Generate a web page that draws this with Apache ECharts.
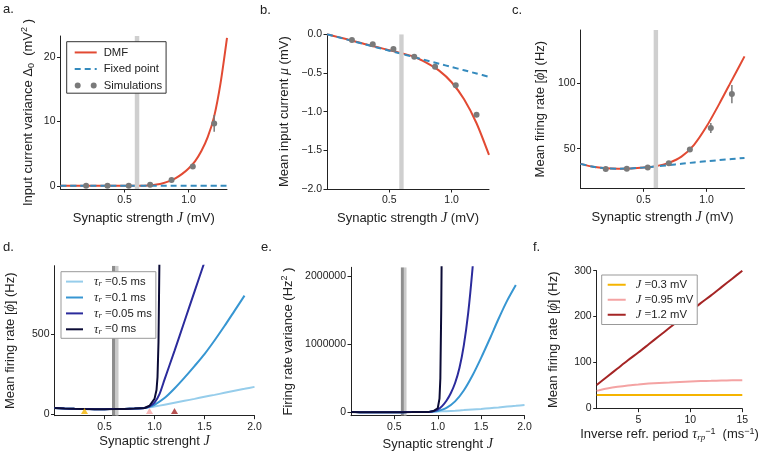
<!DOCTYPE html>
<html><head><meta charset="utf-8">
<script src="https://cdn.jsdelivr.net/npm/echarts@6/dist/echarts.min.js"></script>
<style>html,body{margin:0;padding:0;background:#fff}#c{width:764px;height:457px}</style>
</head><body><div id="c"></div>
<script>
// ---------- data ----------
const jA = [0,0.05,0.1,0.15,0.2,0.25,0.3,0.35,0.4,0.45,0.5,0.55,0.6,0.65,0.7,0.75,0.8,0.85,0.9,0.95,1.0,1.05,1.1,1.15,1.2,1.25,1.3];
const varDMF = [0,0,0,0,0,0,0,0,0,0,0,0,0,0.02,0.08,0.2,0.4,0.72,1.2,1.85,2.7,3.8,5.4,7.6,10.8,16,23];
const jFixedA = [0, 1.3];
const varFixed = [0, 0];
const jSim = [0.2,0.367,0.533,0.7,0.867,1.033,1.2];
const varSim = [0,0,0,0.15,0.9,3.0,9.7];
const varSimErr = [0.05,0.05,0.05,0.1,0.25,0.4,1.3];

const jB = [0,0.1,0.2,0.3,0.4,0.5,0.6,0.7,0.8,0.9,1.0,1.1,1.2,1.3];
const muDMF = [0,-0.04,-0.08,-0.125,-0.165,-0.205,-0.245,-0.29,-0.37,-0.47,-0.62,-0.84,-1.15,-1.56];
const muFixed = [0,-0.042,-0.085,-0.127,-0.17,-0.212,-0.254,-0.296,-0.338,-0.38,-0.423,-0.465,-0.507,-0.55];
const muSim = [-0.074,-0.13,-0.19,-0.29,-0.42,-0.66,-1.04];

const rateDMF = [38.5,36.3,35.2,34.9,35.1,35.7,36.8,39.3,44,53,67,84,102,120];
const rateFixed = [38.5,36.3,35.2,34.9,35.1,35.7,36.6,37.6,38.6,39.6,40.5,41.4,42.2,43];
const rateSim = [34.6,34.8,35.8,39,49.5,65.7,91.4];
const rateSimErr = [0.6,0.6,0.6,1.5,1,3.8,7];

const bandJ = [0.58, 0.615];
const bandJ2 = [0.575, 0.61, 0.64];

const jD05 = [0,0.1,0.2,0.3,0.4,0.5,0.6,0.7,0.8,0.9,0.95,1.0,1.1,1.2,1.3,1.4,1.5,1.6,1.7,1.8,1.9,2.0];
const rateD05 = [38,35,33,31.5,31,31,31.5,32.5,34.5,38,42,47,59,71,83,95,108,120,133,146,158,170];
const jD01 = [0,0.1,0.2,0.3,0.4,0.5,0.6,0.7,0.8,0.9,0.95,1.0,1.1,1.2,1.3,1.4,1.5,1.6,1.7,1.8,1.9];
const rateD01 = [38,35,33,31.5,31,31,31.5,32.5,34.5,38,45,58,100,160,228,300,375,460,550,645,740];
const jD005 = [0,0.1,0.2,0.3,0.4,0.5,0.6,0.7,0.8,0.9,0.95,1.0,1.05,1.1,1.2,1.3,1.4,1.5];
const rateD005 = [38,35,33,31.5,31,31,31.5,32.5,34.5,38,48,72,125,215,395,580,765,950];
const jD0 = [0,0.1,0.2,0.3,0.4,0.5,0.6,0.7,0.8,0.9,0.95,1.0,1.02,1.03,1.04,1.05];
const rateD0 = [38,35,33,31.5,31,31,31.5,32.5,34.5,38,52,95,150,230,450,1000];
const markJ = [0.3, 0.95, 1.2];
const markRate = [0, 0, 0];

const varE05 = [3000,2500,2000,2000,2000,2000,2500,3000,4000,6000,10000,12000,17000,24000,32000,41000,50000,61000,72000,84000,95000,107000];
const varE01 = [3000,2500,2000,2000,2000,2000,2500,3000,4000,6000,12000,20000,65000,160000,320000,540000,800000,1080000,1370000,1640000,1870000];
const jE005 = [0,0.1,0.2,0.3,0.4,0.5,0.6,0.7,0.8,0.9,0.95,1.0,1.05,1.1,1.15,1.2,1.25,1.3,1.35,1.4,1.45];
const varE005 = [3000,2500,2000,2000,2000,2000,2500,3000,4000,6000,15000,40000,90000,170000,280000,430000,650000,980000,1450000,2100000,2900000];
const varE0 = [3000,2500,2000,2000,2000,2000,2500,3000,4000,6000,18000,60000,200000,500000,1500000,3000000];

const invTau = [1,2,3,4,5,6,7,8,9,10,11,12,13,14,15];
const rateF03 = [28,28,28,28,28,28,28,28,28,28,28,28,28,28,28];
const rateF095 = [37,42,46,49,51,53,54.5,55.5,56.5,57.5,58.5,59,59.5,60,60.5];
const rateF12 = [50,68,86,104,121,139,157,175,193,211,229,246,264,282,300];

const ticksA_x = [0.5, 1.0], ticksA_y = [0, 10, 20];
const ticksB_y = [0, -0.5, -1.0, -1.5, -2.0];
const ticksC_y = [50, 100];
const ticksD_x = [0.5, 1.0, 1.5, 2.0], ticksD_y = [0, 500];
const ticksE_y = [0, 1000000, 2000000];
const ticksF_x = [5, 10, 15], ticksF_y = [0, 100, 200, 300];

// ---------- style ----------
const SANS = 'Liberation Sans';
const SERIF = 'Liberation Serif';
const RED = '#e24a33', BLUE = '#348abd', GRAY = '#7a7a7a';
const C05 = '#96cdeb', C01 = '#3796d2', C005 = '#2b2b9c', C0 = '#0b0b36';
const CF03 = '#f5b400', CF095 = '#f4a3a3', CF12 = '#a52525';
const zip = (a, b) => a.map((v, i) => [v, b[i]]);
const zip3 = (a, b, c) => a.map((v, i) => [v, b[i], c[i]]);

const rich = {
  j: { fontFamily: SERIF, fontStyle: 'italic', fontSize: 14 },
  g: { fontFamily: SERIF, fontStyle: 'italic', fontSize: 14 },
  sb: { fontSize: 9, padding: [7, 0, 0, 0] },
  sbi: { fontSize: 9, fontFamily: SERIF, fontStyle: 'italic', padding: [7, 0, 0, 0] },
  sp: { fontSize: 9, padding: [0, 0, 7, 0] }
};
const nameStyle = { fontSize: 13, fontFamily: SANS, color: '#222', lineHeight: 16, rich };

function xAxis(gi, min, max, ticks, fmt, name, gap) {
  return {
    type: 'value', gridIndex: gi, min, max,
    axisLine: { show: true, onZero: false, lineStyle: { color: '#222', width: 1 } },
    axisTick: { show: true, length: 3.5, customValues: ticks, lineStyle: { color: '#222' } },
    axisLabel: { customValues: ticks, formatter: fmt, color: '#222', fontSize: 10.5, fontFamily: SANS, margin: 6 },
    splitLine: { show: false },
    name, nameLocation: 'middle', nameGap: gap, nameTextStyle: nameStyle
  };
}
function yAxis(gi, min, max, ticks, fmt, name, gap) {
  return {
    type: 'value', gridIndex: gi, min, max,
    axisLine: { show: true, onZero: false, lineStyle: { color: '#222', width: 1 } },
    axisTick: { show: true, length: 3.5, customValues: ticks, lineStyle: { color: '#222' } },
    axisLabel: { customValues: ticks, formatter: fmt, color: '#222', fontSize: 10.5, fontFamily: SANS, margin: 5 },
    splitLine: { show: false },
    name, nameLocation: 'middle', nameGap: gap, nameTextStyle: nameStyle
  };
}
const f1 = v => v.toFixed(1);
const fInt = v => String(v);
const fMinus = v => (v < 0 ? '\u2212' : '') + Math.abs(v).toFixed(1);

function line(gi, name, data, color, width, dashed, z, smooth) {
  return {
    type: 'line', name, xAxisIndex: gi, yAxisIndex: gi, data,
    symbol: 'none', showSymbol: false, smooth: smooth === undefined ? 0.25 : smooth,
    lineStyle: { color, width, type: dashed ? [6, 4] : 'solid' },
    itemStyle: { color }, z: z || 2, silent: true
  };
}
function sims(gi, name, data) {
  return {
    type: 'scatter', name, xAxisIndex: gi, yAxisIndex: gi, data,
    symbol: 'circle', symbolSize: 6, itemStyle: { color: GRAY, opacity: 1 }, z: 5
  };
}
function errs(gi, data) {
  return {
    type: 'custom', xAxisIndex: gi, yAxisIndex: gi, data, z: 4, silent: true,
    encode: { x: 0, y: 1 },
    renderItem: (params, api) => {
      const x = api.value(0), y = api.value(1), e = api.value(2);
      const p1 = api.coord([x, y - e]), p2 = api.coord([x, y + e]);
      return { type: 'line', shape: { x1: p1[0], y1: p1[1], x2: p2[0], y2: p2[1] },
        style: { stroke: GRAY, lineWidth: 1.5 } };
    }
  };
}
function band(gi, ranges, colors, z) {
  return {
    type: 'custom', xAxisIndex: gi, yAxisIndex: gi, silent: true, z,
    data: ranges, encode: { x: [0, 1] }, clip: true,
    renderItem: (params, api) => {
      const cs = params.coordSys;
      const x0 = api.coord([api.value(0), 0])[0], x1 = api.coord([api.value(1), 0])[0];
      return { type: 'rect', shape: { x: x0, y: cs.y, width: x1 - x0, height: cs.height },
        style: { fill: colors[params.dataIndex] } };
    }
  };
}

const grids = [
  { left: 60.5, top: 36, width: 166.5, height: 153 },
  { left: 327, top: 34.3, width: 162, height: 154.7 },
  { left: 580.5, top: 30, width: 164, height: 158.3 },
  { left: 54.5, top: 265.7, width: 200, height: 150 },
  { left: 351, top: 267.3, width: 173.5, height: 148.4 },
  { left: 596.7, top: 270.7, width: 145.6, height: 138 }
];

const hide = { opacity: 0 };
const jLabel = 'Synaptic strength {j|J} (mV)';
const option = {
  animation: false,
  backgroundColor: '#fff',
  grid: grids,
  xAxis: [
    xAxis(0, 0, 1.3, ticksA_x, f1, jLabel, 21),
    xAxis(1, 0, 1.3, ticksA_x, f1, jLabel, 21),
    xAxis(2, 0, 1.3, ticksA_x, f1, jLabel, 21.5),
    xAxis(3, 0, 2, ticksD_x, f1, 'Synaptic strenght {j|J}', 10),
    xAxis(4, 0, 2, ticksD_x, f1, 'Synaptic strenght {j|J}', 21),
    xAxis(5, 1, 15, ticksF_x, fInt, 'Inverse refr. period {g|τ}{sbi|rp}{sp|−1}  (ms{sp|−1})', 15)
  ],
  yAxis: [
    yAxis(0, -0.5, 23.3, ticksA_y, fInt, 'Input current variance Δ{sb|0}  (mV{sp|2} )', 24),
    yAxis(1, -2, 0, ticksB_y, fMinus, 'Mean input current {g|μ} (mV)', 35),
    yAxis(2, 20, 140, ticksC_y, fInt, 'Mean firing rate [{g|ϕ}] (Hz)', 32),
    yAxis(3, -10, 927, ticksD_y, fInt, 'Mean firing rate [{g|ϕ}] (Hz)', 36),
    yAxis(4, -50000, 2130000, ticksE_y, fInt, 'Firing rate variance (Hz{sp|2} )', 55),
    yAxis(5, -2, 300, ticksF_y, fInt, 'Mean firing rate [{g|ϕ}] (Hz)', 35)
  ],
  legend: [
    {
      orient: 'vertical', left: 66.7, top: 41.7, itemWidth: 22, itemHeight: 6, itemGap: 3,
      padding: [4, 4, 1, 7], borderColor: '#333', borderWidth: 1, backgroundColor: '#fff',
      textStyle: { fontSize: 11.3, fontFamily: SANS, color: '#222', lineHeight: 13.5, padding: [0, 0, 0, 2] },
      selectedMode: false,
      data: [{ name: 'DMF', itemStyle: hide }, { name: 'Fixed point', itemStyle: hide }, { name: 'Simulations',
        icon: 'path://M0,3A3,3,0,1,1,6,3A3,3,0,1,1,0,3ZM16,3A3,3,0,1,1,22,3A3,3,0,1,1,16,3Z' }]
    },
    {
      orient: 'vertical', left: 61, top: 271.7, itemWidth: 17, itemHeight: 6, itemGap: 2,
      padding: [3, 4, 2, 4], borderColor: '#999', borderWidth: 1, backgroundColor: '#fff',
      itemStyle: hide,
      textStyle: { fontSize: 11.3, fontFamily: SANS, color: '#222', lineHeight: 13.8, padding: [0, 0, 0, 6],
        rich: { t: { fontFamily: SERIF, fontStyle: 'italic', fontSize: 12.5 }, r: { fontFamily: SERIF, fontStyle: 'italic', fontSize: 8.5, padding: [5, 0, 0, 0] }, e: { fontFamily: SERIF, fontSize: 12 } } },
      selectedMode: false,
      data: ['d05', 'd01', 'd005', 'd0'],
      formatter: n => ({ d05: '{t|τ}{r|r} {e|=}0.5 ms', d01: '{t|τ}{r|r} {e|=}0.1 ms', d005: '{t|τ}{r|r} {e|=}0.05 ms', d0: '{t|τ}{r|r} {e|=}0 ms' })[n]
    },
    {
      orient: 'vertical', left: 601.7, top: 275, itemWidth: 18, itemHeight: 6, itemGap: 1.5,
      padding: [3, 4, 3, 5], borderColor: '#999', borderWidth: 1, backgroundColor: '#fff',
      itemStyle: hide,
      textStyle: { fontSize: 11.3, fontFamily: SANS, color: '#222', lineHeight: 13.5, padding: [0, 0, 0, 5],
        rich: { j: { fontFamily: SERIF, fontStyle: 'italic', fontSize: 12.5 }, e: { fontFamily: SERIF, fontSize: 12 } } },
      selectedMode: false,
      data: ['f03', 'f095', 'f12'],
      formatter: n => ({ f03: '{j|J} {e|=}0.3 mV', f095: '{j|J} {e|=}0.95 mV', f12: '{j|J} {e|=}1.2 mV' })[n]
    }
  ],
  graphic: [
    ['a.', 3, 3], ['b.', 260, 4], ['c.', 512, 4], ['d.', 3, 241], ['e.', 261, 241], ['f.', 533, 241]
  ].map(([t, x, y]) => ({ type: 'text', left: x, top: y, style: { text: t, fontSize: 13, fontFamily: SANS, fill: '#222' } })),
  series: [
    // a
    line(0, 'DMF', zip(jA, varDMF), RED, 2, false, 2),
    line(0, 'Fixed point', zip(jFixedA, varFixed), BLUE, 2, true, 3),
    band(0, [bandJ], ['#cfcfcf'], 3.5),
    errs(0, zip3(jSim, varSim, varSimErr)),
    sims(0, 'Simulations', zip(jSim, varSim)),
    // b
    line(1, 'DMFb', zip(jB, muDMF), RED, 2, false, 2),
    line(1, 'Fixedb', zip(jB, muFixed), BLUE, 2, true, 3),
    band(1, [bandJ], ['#cfcfcf'], 3.5),
    sims(1, 'Simb', zip(jSim, muSim)),
    // c
    line(2, 'DMFc', zip(jB, rateDMF), RED, 2, false, 2),
    line(2, 'Fixedc', zip(jB, rateFixed), BLUE, 2, true, 3),
    band(2, [bandJ], ['#cfcfcf'], 3.5),
    errs(2, zip3(jSim, rateSim, rateSimErr)),
    sims(2, 'Simc', zip(jSim, rateSim)),
    // d
    band(3, [[bandJ2[0], bandJ2[1]], [bandJ2[1], bandJ2[2]]], ['#8e8e8e', '#cacaca'], 1),
    line(3, 'd05', zip(jD05, rateD05), C05, 2, false, 2),
    line(3, 'd01', zip(jD01, rateD01), C01, 2, false, 2),
    line(3, 'd005', zip(jD005, rateD005), C005, 2, false, 2),
    line(3, 'd0', zip(jD0, rateD0), C0, 2, false, 2, false),
    {
      type: 'scatter', xAxisIndex: 3, yAxisIndex: 3, data: zip(markJ, markRate), symbol: 'triangle',
      symbolSize: [7, 6], symbolOffset: [0, -3], z: 6, silent: true,
      itemStyle: { color: p => [CF03, CF095, CF12][p.dataIndex] }
    },
    // e
    band(4, [[bandJ2[0], bandJ2[1]], [bandJ2[1], bandJ2[2]]], ['#8e8e8e', '#cacaca'], 1),
    line(4, 'e05', zip(jD05, varE05), C05, 2, false, 2),
    line(4, 'e01', zip(jD01, varE01), C01, 2, false, 2),
    line(4, 'e005', zip(jE005, varE005), C005, 2, false, 2),
    line(4, 'e0', zip(jD0, varE0), C0, 2, false, 2, false),
    // f
    line(5, 'f03', zip(invTau, rateF03), CF03, 2, false, 2),
    line(5, 'f095', zip(invTau, rateF095), CF095, 2, false, 2),
    line(5, 'f12', zip(invTau, rateF12), CF12, 2, false, 2)
  ]
};
const chart = echarts.init(document.getElementById('c'), null, { renderer: 'canvas' });
chart.setOption(option);
</script></body></html>
